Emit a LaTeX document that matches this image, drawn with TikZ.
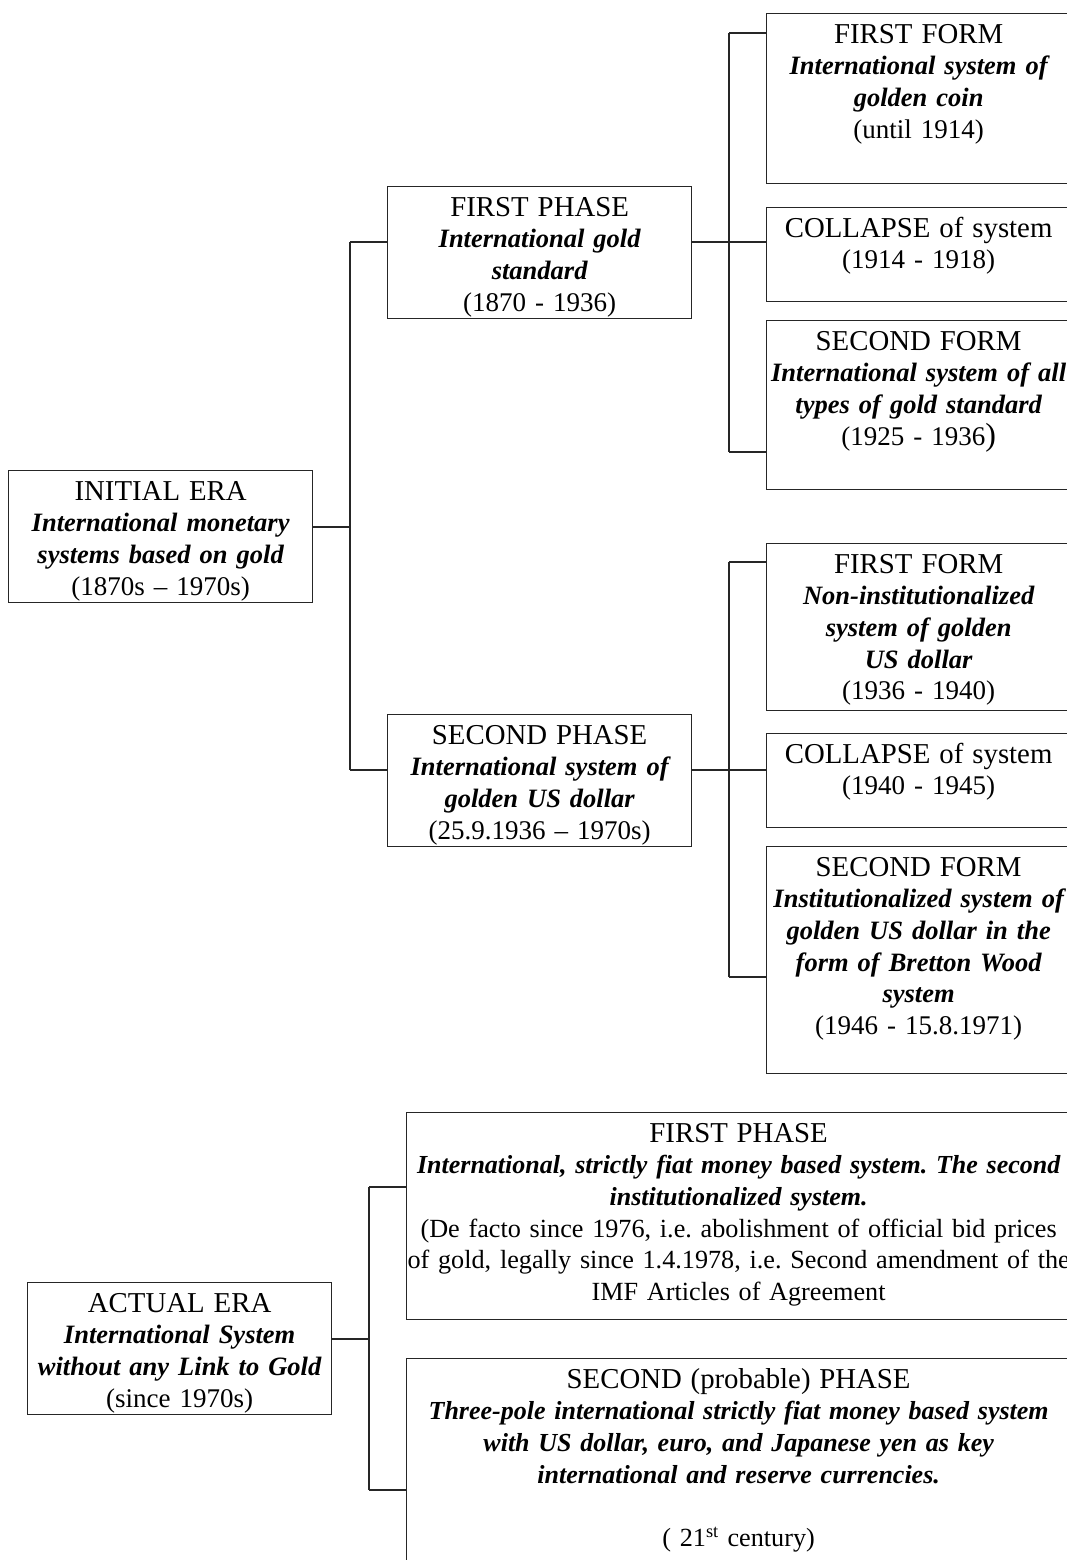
\documentclass[tikz,border=0pt]{standalone}
\usepackage{fontspec}
\setmainfont{Liberation Serif}
\newcommand{\hdline}[1]{{\fontsize{28.8}{31.6}\selectfont #1}}
\newcommand{\biline}[1]{{\fontsize{26.5}{31.6}\selectfont\bfseries\itshape #1}}
\newcommand{\bilineF}[1]{{\fontsize{26}{31.6}\selectfont\bfseries\itshape #1}}
\frenchspacing
\begin{document}
\begin{tikzpicture}[x=1pt,y=-1pt,
  box/.style={draw=black!85, line width=1.3pt, rectangle, inner sep=0pt, anchor=north west, minimum width=304pt},
  widebox/.style={box, minimum width=664pt},
  txt/.style={anchor=north, inner sep=0pt, align=center, yshift=-8pt, text width=#1,
              font=\fontsize{27}{31.6}\selectfont\frenchspacing},
  txt/.default=400pt,
  txtF/.style={txt=720pt, font=\fontsize{26.2}{31.6}\selectfont\frenchspacing},
  conn/.style={draw=black!85, line width=1.3pt}]
\useasboundingbox (0,0) rectangle (1067,1560);
\clip (0,0) rectangle (1067,1560);

% ---------- boxes ----------
\node[box, minimum height=132pt] (A)  at (8,470) {};
\node[box, minimum height=132pt] (B1) at (387,186) {};
\node[box, minimum height=132pt] (B2) at (387,714) {};
\node[box, minimum height=170pt] (C1) at (766,13) {};
\node[box, minimum height=94pt]  (C2) at (766,207) {};
\node[box, minimum height=169pt] (C3) at (766,320) {};
\node[box, minimum height=167pt] (D1) at (766,543) {};
\node[box, minimum height=94pt]  (D2) at (766,733) {};
\node[box, minimum height=227pt] (D3) at (766,846) {};
\node[box, minimum height=132pt] (E)  at (27,1282) {};
\node[widebox, minimum height=207pt] (F1) at (406,1112) {};
\node[widebox, minimum height=240pt] (F2) at (406,1358) {};

% ---------- texts ----------
\node[txt] (tA) at (A.north) {\strut\hdline{INITIAL ERA}\\ \biline{International monetary}\\ \biline{systems based on gold}\\ (1870s – 1970s)};
\node[txt] (tB1) at (B1.north) {\strut\hdline{FIRST PHASE}\\ \biline{International gold}\\ \biline{standard}\\ (1870 - 1936)};
\node[txt] (tB2) at (B2.north) {\strut\hdline{SECOND PHASE}\\ \biline{International system of}\\ \biline{golden US dollar}\\ (25.9.1936 – 1970s)};
\node[txt] (tC1) at (C1.north) {\strut\hdline{FIRST FORM}\\ \biline{International system of}\\ \biline{golden coin}\\ (until 1914)};
\node[txt] (tC2) at (C2.north) {\strut\hdline{COLLAPSE of system}\\ (1914 - 1918)};
\node[txt] (tC3) at (C3.north) {\strut\hdline{SECOND FORM}\\ \biline{International system of all}\\ \biline{types of gold standard}\\ (1925 - 1936{\fontsize{32}{31.6}\selectfont)}};
\node[txt] (tD1) at (D1.north) {\strut\hdline{FIRST FORM}\\ \biline{Non-institutionalized}\\ \biline{system of golden}\\ \biline{US dollar}\\ (1936 - 1940)};
\node[txt] (tD2) at (D2.north) {\strut\hdline{COLLAPSE of system}\\ (1940 - 1945)};
\node[txt] (tD3) at (D3.north) {\strut\hdline{SECOND FORM}\\ \biline{Institutionalized system of}\\ \biline{golden US dollar in the}\\ \biline{form of Bretton Wood}\\ \biline{system}\\ (1946 - 15.8.1971)};
\node[txt] (tE) at (E.north) {\strut\hdline{ACTUAL ERA}\\ \biline{International System}\\ \biline{without any Link to Gold}\\ (since 1970s)};
\node[txtF] (tF1) at (F1.north) {\strut\hdline{FIRST PHASE}\\ \bilineF{International, strictly fiat money based system. The second}\\ \bilineF{institutionalized system.}\\ (De facto since 1976, i.e. abolishment of official bid prices\\ of gold, legally since 1.4.1978, i.e. Second amendment of the\\ IMF Articles of Agreement};
\node[txtF] (tF2) at (F2.north) {\strut\hdline{SECOND (probable) PHASE}\\ \bilineF{Three-pole international strictly fiat money based system}\\ \bilineF{with US dollar, euro, and Japanese yen as key}\\ \bilineF{international and reserve currencies.}\\ \mbox{}\\ ( 21\textsuperscript{st} century)};

% ---------- junction points ----------
\coordinate (ja)  at (350,527);
\coordinate (jat) at (350,242);
\coordinate (jab) at (350,770);
\coordinate (jc1) at (729,33);
\coordinate (jcm) at (729,242);
\coordinate (jc3) at (729,452);
\coordinate (jd1) at (729,562);
\coordinate (jdm) at (729,770);
\coordinate (jd3) at (729,977);
\coordinate (je)  at (369,1339);
\coordinate (jet) at (369,1187);
\coordinate (jeb) at (369,1490);

% ---------- connectors ----------
\draw[conn] (A.east |- ja) -- (ja);
\draw[conn] (jat) -- (jab);
\draw[conn] (jat) -- (B1.west |- jat);
\draw[conn] (jab) -- (B2.west |- jab);

\draw[conn] (B1.east |- jcm) -- (jcm);
\draw[conn] (jc1) -- (jc3);
\draw[conn] (jc1) -- (C1.west |- jc1);
\draw[conn] (jcm) -- (C2.west |- jcm);
\draw[conn] (jc3) -- (C3.west |- jc3);

\draw[conn] (B2.east |- jdm) -- (jdm);
\draw[conn] (jd1) -- (jd3);
\draw[conn] (jd1) -- (D1.west |- jd1);
\draw[conn] (jdm) -- (D2.west |- jdm);
\draw[conn] (jd3) -- (D3.west |- jd3);

\draw[conn] (E.east |- je) -- (je);
\draw[conn] (jet) -- (jeb);
\draw[conn] (jet) -- (F1.west |- jet);
\draw[conn] (jeb) -- (F2.west |- jeb);
\end{tikzpicture}
\end{document}
